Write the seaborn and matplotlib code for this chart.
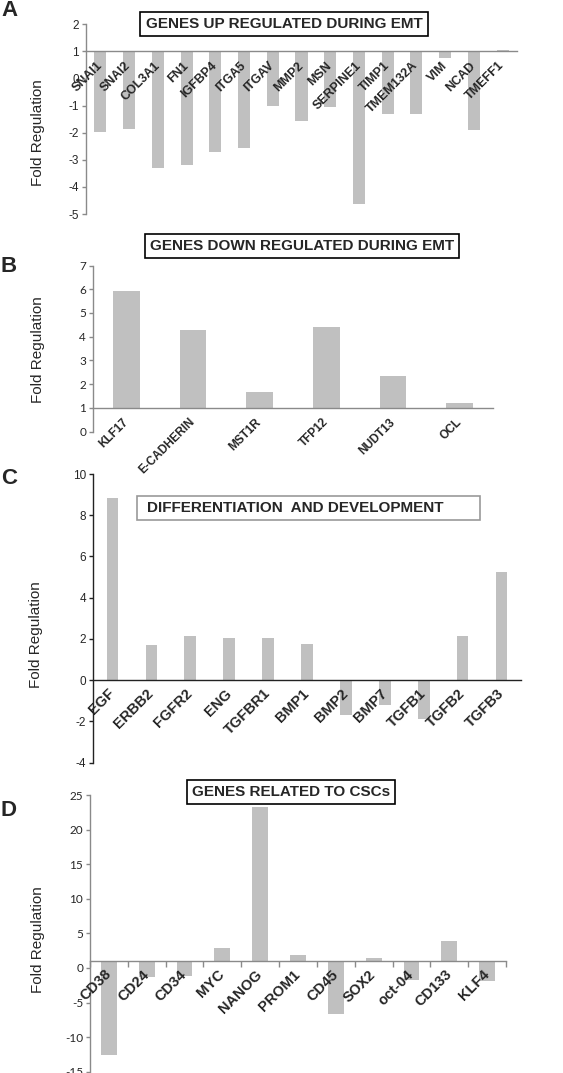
import numpy as np
import pandas as pd
import matplotlib
matplotlib.use("Agg")
import matplotlib.pyplot as plt
import seaborn as sns

# panel A - genes up regulated during EMT
emt_up_genes = ["SNAI1", "SNAI2", "COL3A1", "FN1", "IGFBP4", "ITGA5", "ITGAV", "MMP2",
                "MSN", "SERPINE1", "TIMP1", "TMEM132A", "VIM", "NCAD", "TMEFF1"]
emt_up_fold = [-1.96, -1.86, -3.31, -3.19, -2.70, -2.57, -1.00, -1.56,
               -1.04, -4.63, -1.30, -1.30, 0.77, -1.91, 1.06]

# panel B - genes down regulated during EMT
emt_down_genes = ["KLF17", "E-CADHERIN", "MST1R", "TFP12", "NUDT13", "OCL"]
emt_down_fold = [5.92, 4.28, 1.69, 4.39, 2.33, 1.22]

# panel C - differentiation and development
dev_genes = ["EGF", "ERBB2", "FGFR2", "ENG", "TGFBR1", "BMP1", "BMP2", "BMP7",
             "TGFB1", "TGFB2", "TGFB3"]
dev_fold = [8.83, 1.70, 2.12, 2.04, 2.04, 1.78, -1.70, -1.22, -1.90, 2.12, 5.23]

# panel D - genes related to CSCs
csc_genes = ["CD38", "CD24", "CD34", "MYC", "NANOG", "PROM1", "CD45", "SOX2",
             "oct-04", "CD133", "KLF4"]
csc_fold = [-12.63, -1.36, -1.12, 2.93, 23.25, 1.87, -6.66, 1.48, -1.70, 3.89, -1.84]

BAR = "#c0c0c0"
W, H = 563, 1073

sns.set_style("white")
plt.rcParams["font.family"] = ["Liberation Sans", "DejaVu Sans"]

fig = plt.figure(figsize=(W / 100, H / 100), dpi=100)


def px_axes(x0, x1, y_top, y_bot):
    return fig.add_axes([x0 / W, 1 - y_bot / H, (x1 - x0) / W, (y_bot - y_top) / H])


def draw_panel(ax, genes, fold, base, ylim, yticks, width, spine_col, tick_font,
               label_size, label_pad, bound_ticks=False):
    df = pd.DataFrame({"gene": genes, "fold": fold})
    df["height"] = df["fold"] - base
    sns.barplot(data=df, x="gene", y="height", order=genes, color=BAR, width=width,
                bottom=base, saturation=1, ax=ax, edgecolor="none")
    ax.set_axisbelow(False)
    ax.set_xlim(-0.5, len(genes) - 0.5)
    ax.set_ylim(*ylim)
    ax.set_yticks(yticks)
    ax.set_yticklabels([str(t) for t in yticks], fontsize=8.5, family=tick_font)
    for s in ["top", "right"]:
        ax.spines[s].set_visible(False)
    ax.spines["bottom"].set_position(("data", base))
    for s in ["left", "bottom"]:
        ax.spines[s].set_color(spine_col)
        ax.spines[s].set_linewidth(1.0)
    ax.tick_params(axis="y", direction="out", length=3, width=1, color=spine_col,
                   pad=2, left=True)
    ax.tick_params(axis="x", length=0, pad=label_pad)
    ax.set_xticks(range(len(genes)))
    ax.set_xticklabels(genes, rotation=45, ha="right", va="center",
                       rotation_mode="anchor", fontsize=label_size, fontweight="bold")
    if bound_ticks:
        ax.set_xticks(np.arange(len(genes) + 1) - 0.5, minor=True)
        ax.tick_params(axis="x", which="minor", direction="out", length=4,
                       width=1, color=spine_col, bottom=True)
    ax.set_xlabel("")
    ax.set_ylabel("")


def boxed_title(x, y, text, edge="black", ha="center", pad=0.35):
    fig.text(x / W, 1 - y / H, text, ha=ha, va="center", fontsize=11,
             fontweight="bold",
             bbox=dict(boxstyle=f"square,pad={pad}", fc="white", ec=edge, lw=1.2))


def ylab(x, y):
    fig.text(x / W, 1 - y / H, "Fold Regulation", rotation=90, ha="center",
             va="center", fontsize=11)


def letter(x, y, s):
    fig.text(x / W, 1 - y / H, s, ha="left", va="center", fontsize=16,
             fontweight="bold")


# A
axA = px_axes(86, 517, 24.3, 214)
draw_panel(axA, emt_up_genes, emt_up_fold, 1, (-5, 2), list(range(-5, 3)), 0.42,
           "#8a8a8a", "Liberation Sans", 9, 9)
boxed_title(284, 24, "GENES UP REGULATED DURING EMT")
ylab(38, 133)
letter(1, 11, "A")

# B
axB = px_axes(93, 493, 265.5, 431.7)
draw_panel(axB, emt_down_genes, emt_down_fold, 1, (0, 7), list(range(0, 8)), 0.4,
           "#8a8a8a", "Lato", 8.5, 9)
boxed_title(302, 246, "GENES DOWN REGULATED DURING EMT")
ylab(38, 350)
letter(1, 266, "B")

# C
axC = px_axes(93, 521, 474, 762.7)
draw_panel(axC, dev_genes, dev_fold, 0, (-4, 10), list(range(-4, 11, 2)), 0.3,
           "#222222", "Liberation Sans", 10.5, 8)
fig.patches.append(plt.Rectangle((137 / W, 1 - 520 / H), (480 - 137) / W, 24 / H,
                                 transform=fig.transFigure, fc="white", ec="#999999",
                                 lw=1.2))
fig.text(147 / W, 1 - 508 / H, "DIFFERENTIATION  AND DEVELOPMENT", ha="left",
         va="center", fontsize=11, fontweight="bold")
ylab(36, 635)
letter(1, 479, "C")

# D
axD = px_axes(90, 506, 795, 1071.7)
draw_panel(axD, csc_genes, csc_fold, 1, (-15, 25), list(range(-15, 26, 5)), 0.42,
           "#8a8a8a", "Lato", 10.5, 8, bound_ticks=True)
boxed_title(291, 792, "GENES RELATED TO CSCs")
ylab(38, 940)
letter(1, 810, "D")

fig.savefig("out.png", dpi=100)
